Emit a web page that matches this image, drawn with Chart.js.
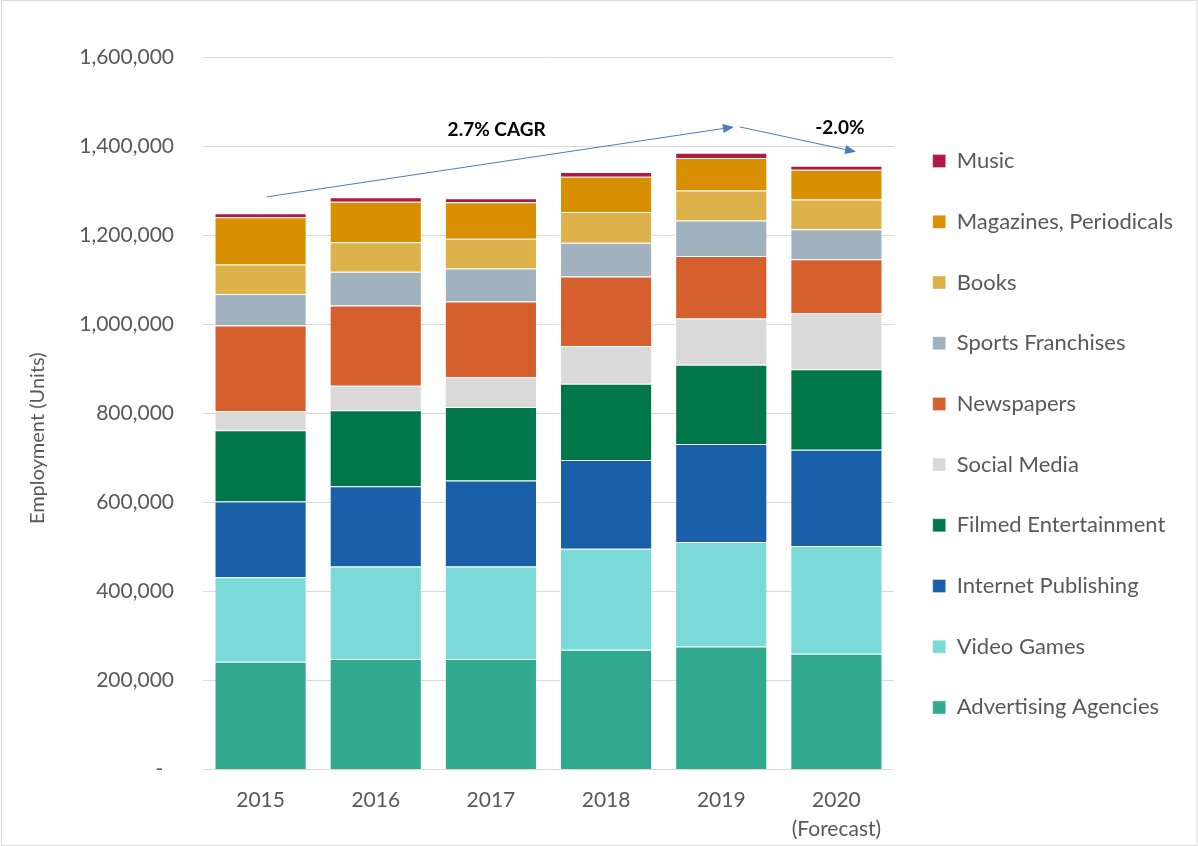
<!DOCTYPE html>
<html>
<head>
<meta charset="utf-8">
<script src="https://cdn.jsdelivr.net/npm/chart.js@4/dist/chart.umd.min.js"></script>
<style>
  body { margin: 0; background: #fff; }
  canvas { display: block; }
</style>
</head>
<body>
<canvas id="employmentChart" width="1198" height="846"></canvas>
<script>
// Categories and series (employment, units)
const years = ['2015', '2016', '2017', '2018', '2019', ['2020', '(Forecast)']];

const advertising = [242000, 248000, 248000, 269000, 276000, 260000];
const videoGames  = [190000, 208000, 208000, 227000, 235000, 242000];
const internet    = [170000, 180000, 193000, 199000, 220000, 216000];
const filmed      = [160000, 171000, 165000, 171000, 178000, 181000];
const socialMedia = [43000, 55000, 67000, 85000, 104000, 126000];
const newspapers  = [192000, 180000, 170000, 156000, 140000, 121000];
const sports      = [71000, 76000, 74000, 76000, 80000, 67000];
const books       = [66000, 66000, 67000, 69000, 67000, 67000];
const magazines   = [106000, 91000, 82000, 79000, 73000, 67000];
const music       = [9000, 10000, 9000, 11000, 12000, 9000];

const yTicks = [0, 200000, 400000, 600000, 800000, 1000000, 1200000, 1400000, 1600000];

// growth annotations: [category index, value]
const cagrArrow = { from: [0.055, 1286000], to: [4.11, 1443000] };
const dropArrow = { from: [4.16, 1443000], to: [5.17, 1387000] };
const cagrLabel = { text: '2.7% CAGR', at: [2.05, 1437000] };
const dropLabel = { text: '-2.0%', at: [5.03, 1441000] };

const greyText = '#595959';
const legendFont = '22px Lato';

const series = [
    { label: 'Advertising Agencies', data: advertising, color: '#31a98f' },
    { label: 'Video Games', data: videoGames, color: '#7bd9d7' },
    { label: 'Internet Publishing', data: internet, color: '#1a60a8' },
    { label: 'Filmed Entertainment', data: filmed, color: '#00774a' },
    { label: 'Social Media', data: socialMedia, color: '#d9d9d9' },
    { label: 'Newspapers', data: newspapers, color: '#d5602e' },
    { label: 'Sports Franchises', data: sports, color: '#a1b2be' },
    { label: 'Books', data: books, color: '#ddb24a' },
    { label: 'Magazines, Periodicals', data: magazines, color: '#d88f00' },
    { label: 'Music', data: music, color: '#b01846' },
];

// work out right padding so the plot ends near x=894
const mctx = document.createElement('canvas').getContext('2d');
mctx.font = legendFont;
const widest = Math.max(...series.map(s => mctx.measureText(s.label).width));
const legendPad = 38.7;
const legendWidth = legendPad + 13 + 11 + widest + 10;
const padRight = Math.max(0, 1198 - 894 - legendWidth);

function drawArrow(ctx, x1, y1, x2, y2) {
    const ang = Math.atan2(y2 - y1, x2 - x1);
    const len = 11, half = 4.5;
    ctx.beginPath();
    ctx.moveTo(x1, y1);
    ctx.lineTo(x2 - Math.cos(ang) * len * 0.8, y2 - Math.sin(ang) * len * 0.8);
    ctx.stroke();
    ctx.beginPath();
    ctx.moveTo(x2, y2);
    ctx.lineTo(x2 - Math.cos(ang) * len + Math.sin(ang) * half, y2 - Math.sin(ang) * len - Math.cos(ang) * half);
    ctx.lineTo(x2 - Math.cos(ang) * len - Math.sin(ang) * half, y2 - Math.sin(ang) * len + Math.cos(ang) * half);
    ctx.closePath();
    ctx.fill();
}

const frameAndNotes = {
    id: 'frameAndNotes',
    afterLayout(chart) {
        // let the two-line x label show below the short axis box
        chart.scales.x.bottom = chart.height;
    },
    beforeDraw(chart) {
        const { ctx, width, height } = chart;
        ctx.save();
        ctx.fillStyle = '#fff';
        ctx.fillRect(0, 0, width, height);
        ctx.strokeStyle = '#d9d9d9';
        ctx.lineWidth = 1;
        ctx.strokeRect(1.5, 0.5, width - 2.5, height - 1);
        ctx.restore();
    },
    afterDatasetsDraw(chart) {
        const { ctx, scales } = chart;
        const px = p => [scales.x.getPixelForValue(p[0]), scales.y.getPixelForValue(p[1])];
        ctx.save();
        ctx.strokeStyle = '#4a7ebb';
        ctx.fillStyle = '#4a7ebb';
        ctx.lineWidth = 1;
        for (const a of [cagrArrow, dropArrow]) {
            const [x1, y1] = px(a.from);
            const [x2, y2] = px(a.to);
            drawArrow(ctx, x1, y1, x2, y2);
        }
        ctx.fillStyle = '#000';
        ctx.font = 'bold 19px Lato';
        ctx.textAlign = 'center';
        ctx.textBaseline = 'middle';
        for (const l of [cagrLabel, dropLabel]) {
            const [x, y] = px(l.at);
            ctx.fillText(l.text, x, y);
        }
        ctx.restore();
    }
};

const ctx = document.getElementById('employmentChart').getContext('2d');
new Chart(ctx, {
    type: 'bar',
    data: {
        labels: years,
        datasets: series.map(s => ({
            label: s.label,
            data: s.data,
            backgroundColor: s.color,
            borderColor: 'rgba(255,255,255,0.35)',
            borderWidth: 1,
            barPercentage: 0.8,
            categoryPercentage: 1.0,
        })),
    },
    options: {
        responsive: false,
        animation: false,
        devicePixelRatio: 1,
        layout: { padding: { top: 57, bottom: 34.5, left: 10, right: padRight } },
        scales: {
            x: {
                stacked: true,
                grid: { display: false, drawTicks: false },
                border: { display: false },
                ticks: { color: greyText, font: { family: 'Lato', size: 21, lineHeight: 1.4 }, padding: 16, maxRotation: 0 },
                afterFit(scale) { scale.height = 42; },
            },
            y: {
                stacked: true,
                min: 0,
                max: 1600000,
                afterBuildTicks(scale) { scale.ticks = yTicks.map(v => ({ value: v })); },
                grid: { color: '#d9d9d9', lineWidth: 1, drawTicks: false },
                border: { display: false },
                ticks: {
                    color: greyText,
                    font: { family: 'Lato', size: 21 },
                    padding: 29,
                    callback: v => v === 0 ? '-  ' : v.toLocaleString('en-US'),
                },
                title: {
                    display: true,
                    text: 'Employment (Units)\u2002\u2002\u2002\u2002\u2002',
                    color: greyText,
                    font: { family: 'Lato', size: 20 },
                    padding: { top: 16, bottom: 0 },
                },
                afterFit(scale) { scale.width = 193; },
            },
        },
        plugins: {
            legend: {
                position: 'right',
                reverse: true,
                labels: {
                    color: greyText,
                    font: { family: 'Lato', size: 22 },
                    boxWidth: 13,
                    boxHeight: 13,
                    padding: legendPad,
                },
            },
            tooltip: { enabled: false },
        },
    },
    plugins: [frameAndNotes],
});
</script>
</body>
</html>
